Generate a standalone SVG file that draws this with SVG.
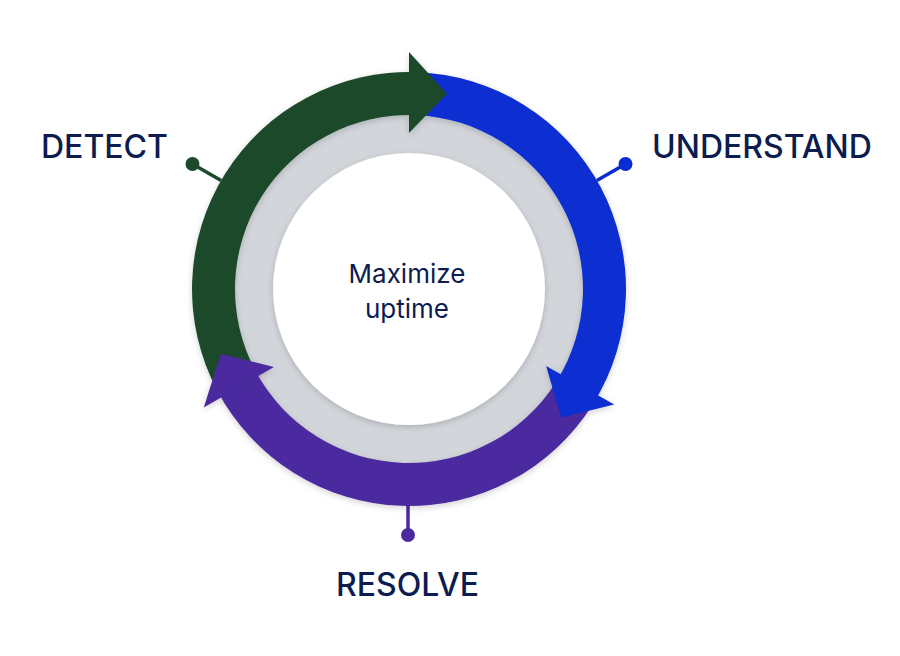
<svg xmlns="http://www.w3.org/2000/svg" width="900" height="656" viewBox="0 0 900 656">
<style>
.lbl{font-family:Inter,"Noto Sans","Liberation Sans",sans-serif;font-size:32px;font-weight:500;fill:#0D1C4F}
.ctr{font-family:Inter,"Noto Sans","Liberation Sans",sans-serif;font-size:26px;font-weight:400;fill:#0D1C4F;text-anchor:middle}
.g{fill:#1C4A2B}.b{fill:#0A2DD1}.p{fill:#4B2A9F}
.gs{stroke:#1C4A2B}.bs{stroke:#0A2DD1}.ps{stroke:#4B2A9F}
.ln{stroke-width:3.5;fill:none}
</style>
<defs>
<filter id="sh" x="-20%" y="-20%" width="140%" height="140%">
<feDropShadow dx="0" dy="2" stdDeviation="3" flood-color="#000" flood-opacity="0.18"/>
</filter>
</defs>
<rect width="900" height="656" fill="#fff"/>
<g id="connectors">
<line class="ln gs" x1="192.5" y1="164" x2="221.1" y2="180.5"/>
<circle class="g" cx="192.5" cy="164" r="7"/>
<line class="ln bs" x1="625.5" y1="164" x2="596.9" y2="180.5"/>
<circle class="b" cx="625.5" cy="164" r="7"/>
<line class="ln ps" x1="408" y1="535" x2="408" y2="504"/>
<circle class="p" cx="408" cy="535" r="7"/>
</g>
<g id="hub">
<circle cx="409" cy="289" r="178" fill="#D2D5DA"/>
<circle cx="409" cy="289" r="136" fill="#fff" filter="url(#sh)"/>
<text class="ctr" x="407" y="283">Maximize</text>
<text class="ctr" x="407" y="318">uptime</text>
</g>
<g id="ring" filter="url(#sh)">
<path class="g" d="M217.41 390.88 A217 217 0 0 1 416.57 72.13 L415.07 115.11 A174 174 0 0 0 255.38 370.69 Z"/>
<path class="b" d="M416.57 72.13 A217 217 0 0 1 593.02 403.99 L556.56 381.20 A174 174 0 0 0 415.07 115.11 Z"/>
<path class="p" d="M593.02 403.99 A217 217 0 0 1 217.41 390.88 L255.38 370.69 A174 174 0 0 0 556.56 381.20 Z"/>
<polygon class="g" points="409,133 409,52 446.97,93.66"/>
<polygon class="b" points="546.1,366 614.2,404.5 561.2,417.6"/>
<polygon class="p" points="273.9,367 203.8,407.5 220.8,353.8"/>
</g>
<g id="detect"><text class="lbl" x="41" y="158">DETECT</text></g>
<g id="understand"><text class="lbl" x="652" y="158">UNDERSTAND</text></g>
<g id="resolve"><text class="lbl" x="407.5" y="596" text-anchor="middle">RESOLVE</text></g>
</svg>
